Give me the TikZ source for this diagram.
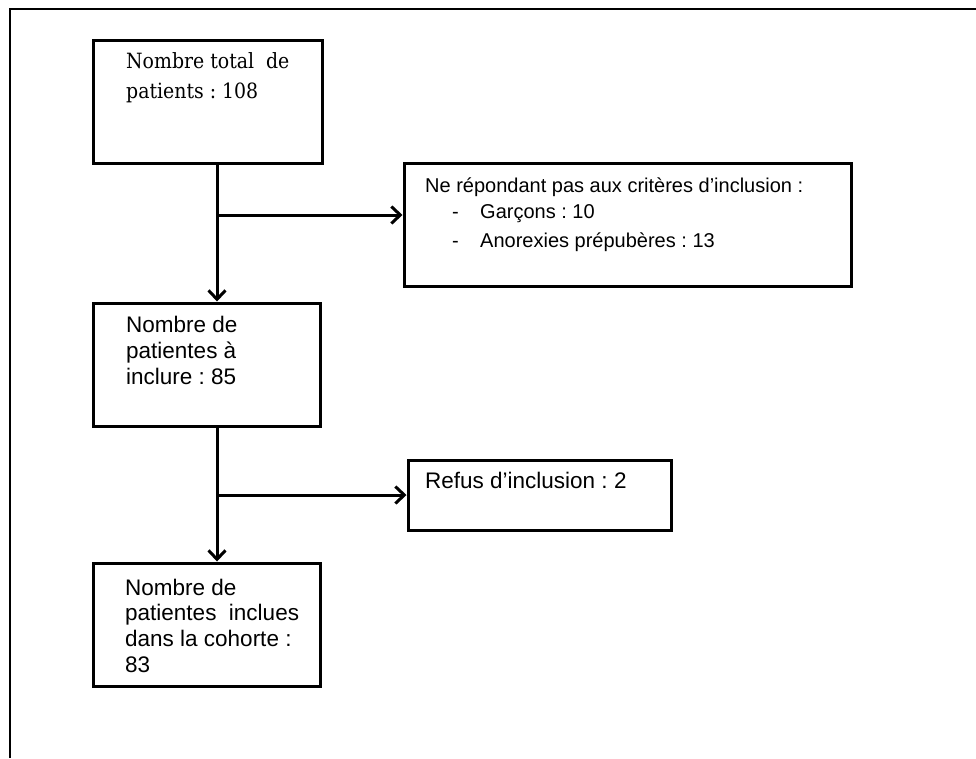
\documentclass[tikz,border=0pt]{standalone}
\usepackage{fontspec}
\newfontfamily\arialf{Liberation Sans}
\newfontfamily\serff{DejaVu Serif Condensed}
\usetikzlibrary{arrows.meta}
\frenchspacing
\begin{document}
\begin{tikzpicture}[x=1pt,y=-1pt,
  box/.style={draw=black,line width=3pt,inner sep=0pt},
  arr/.style={line width=3pt,-{Straight Barb[length=9pt,width=17pt,line width=3pt]}},
  txs/.style={inner sep=0pt,anchor=base west,font=\arialf\fontsize{22.5}{26}\selectfont},
  txm/.style={inner sep=0pt,anchor=base west,font=\arialf\fontsize{20}{24}\selectfont},
  txr/.style={inner sep=0pt,anchor=base west,font=\serff\fontsize{21}{26}\selectfont}]
\useasboundingbox (0,0) rectangle (976,758);
\fill[white] (0,0) rectangle (976,758);
% frame
\draw[line width=1.5pt] (10,758) -- (10,9) -- (976,9);
% boxes
\node[box,minimum width=229pt,minimum height=123pt] (b1) at (207.5,101.5) {};
\node[box,minimum width=447pt,minimum height=123pt] (b3) at (627.5,224.5) {};
\node[box,minimum width=227pt,minimum height=123pt] (b2) at (206.5,364.5) {};
\node[box,minimum width=263pt,minimum height=70pt] (b5) at (539.5,495) {};
\node[box,minimum width=227pt,minimum height=123pt] (b4) at (206.5,624.5) {};
% junctions
\coordinate (j1) at (217,215);
\coordinate (j2) at (217,495);
% connectors
\draw[arr] (b1.south -| j1) -- (b2.north -| j1);
\draw[arr] (j1) -- (b3.west |- j1);
\draw[arr] (b2.south -| j2) -- (b4.north -| j2);
\draw[arr] (j2) -- (b5.west |- j2);
% texts
\node[txr] (t1a) at (126,68) {Nombre total\ \ de};
\node[txr] (t1b) at (126,98) {patients : 108};
\node[txm] (t3a) at (425,192) {Ne répondant pas aux critères d’inclusion :};
\node[txm] (t3b) at (452,218) {-};
\node[txm] (t3c) at (480,218) {Garçons : 10};
\node[txm] (t3d) at (452,247) {-};
\node[txm] (t3e) at (480,247) {Anorexies prépubères : 13};
\node[txs] (t2a) at (126,332) {Nombre de};
\node[txs] (t2b) at (126,358) {patientes à};
\node[txs] (t2c) at (126,384) {inclure : 85};
\node[txs] (t5a) at (425,488) {Refus d’inclusion : 2};
\node[txs] (t4a) at (125,595) {Nombre de};
\node[txs] (t4b) at (125,620) {patientes\ \ inclues};
\node[txs] (t4c) at (125,646) {dans la cohorte :};
\node[txs] (t4d) at (125,672) {83};
\end{tikzpicture}
\end{document}
